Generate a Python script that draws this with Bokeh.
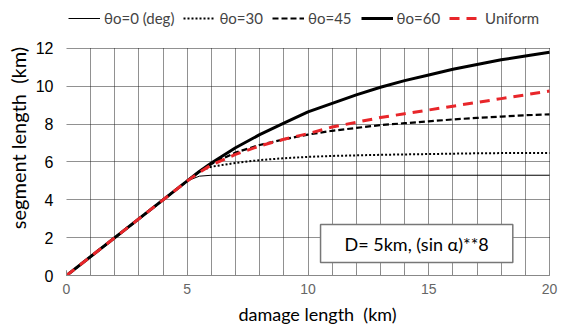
from bokeh.plotting import figure
from bokeh.models import Range1d, Legend, LegendItem, Label, SingleIntervalTicker, FixedTicker
from bokeh.embed import file_html
from bokeh.resources import INLINE

damage = [0, 5, 5.5, 6, 7, 8, 9, 10, 11, 12, 13, 14, 15, 16, 17, 18, 19, 20]
theta0 = [0, 5, 5.25, 5.3, 5.3, 5.3, 5.3, 5.3, 5.3, 5.3, 5.3, 5.3, 5.3, 5.3, 5.3, 5.3, 5.3, 5.3]
theta30 = [0, 5, 5.5, 5.75, 5.95, 6.1, 6.2, 6.27, 6.32, 6.35, 6.38, 6.4, 6.42, 6.44, 6.46, 6.47, 6.48, 6.48]
theta45 = [0, 5, 5.5, 5.9, 6.5, 6.9, 7.2, 7.45, 7.65, 7.8, 7.95, 8.05, 8.15, 8.25, 8.33, 8.4, 8.47, 8.52]
theta60 = [0, 5, 5.5, 5.95, 6.75, 7.45, 8.05, 8.65, 9.1, 9.55, 9.95, 10.3, 10.6, 10.9, 11.15, 11.4, 11.6, 11.8]
uniform = [0, 5, 5.45, 5.85, 6.4, 6.85, 7.2, 7.5, 7.85, 8.1, 8.35, 8.55, 8.75, 8.95, 9.15, 9.35, 9.55, 9.75]
x_ticks = [0, 5, 10, 15, 20]
y_ticks = [0, 2, 4, 6, 8, 10, 12]
legend_labels = ["\u03b8o=0 (deg)", "\u03b8o=30", "\u03b8o=45", "\u03b8o=60", "Uniform"]
note = "D= 5km, (sin \u03b1)**8"
x_title = "damage length\u00a0\u00a0(km)"
y_title = "segment length\u00a0\u00a0(km)"

X_MAX, Y_MAX = 20, 12
# frame extends to the canvas top/right so the legend can sit above the grid
p = figure(width=568, height=329, output_backend="svg", toolbar_location=None,
           x_range=Range1d(0, X_MAX + 19 / 24.15), y_range=Range1d(0, Y_MAX + 48 / 18.92),
           min_border_left=66, min_border_right=0, min_border_top=0, min_border_bottom=54)
p.outline_line_color = None
p.background_fill_color = "white"

# grids
p.xgrid.ticker = SingleIntervalTicker(interval=1)
p.ygrid.ticker = FixedTicker(ticks=y_ticks)
p.xgrid.bounds = (0, X_MAX)
p.xgrid.cross_bounds = (0, Y_MAX)
p.ygrid.bounds = (0, Y_MAX)
p.ygrid.cross_bounds = (0, X_MAX)
for g in (p.xgrid, p.ygrid):
    g.grid_line_color = "#222222"
    g.grid_line_dash = "1 1"
    g.grid_line_width = 1

# x axis
p.xaxis.ticker = FixedTicker(ticks=x_ticks, minor_ticks=list(range(0, 21)))
p.xaxis.bounds = (0, X_MAX)
p.xaxis.axis_line_color = "#888888"
p.xaxis.major_tick_in = 5
p.xaxis.major_tick_out = 0
p.xaxis.minor_tick_in = 5
p.xaxis.minor_tick_out = 0
p.xaxis.major_tick_line_color = "#888888"
p.xaxis.minor_tick_line_color = "#888888"
p.xaxis.major_label_text_font = "Liberation Sans"
p.xaxis.major_label_text_font_size = "14px"
p.xaxis.major_label_text_color = "#666666"
p.xaxis.major_label_standoff = 8
p.xaxis.axis_label = x_title
p.xaxis.axis_label_text_font = "Lato"
p.xaxis.axis_label_text_font_style = "normal"
p.xaxis.axis_label_text_font_size = "18px"
p.xaxis.axis_label_text_color = "black"
p.xaxis.axis_label_standoff = 6

# y axis
p.yaxis.ticker = FixedTicker(ticks=y_ticks)
p.yaxis.bounds = (0, Y_MAX)
p.yaxis.axis_line_color = None
p.yaxis.major_tick_line_color = None
p.yaxis.minor_tick_line_color = None
p.yaxis.major_tick_in = 0
p.yaxis.major_tick_out = 0
p.yaxis.minor_tick_in = 0
p.yaxis.minor_tick_out = 0
p.yaxis.major_label_text_font = "Liberation Sans"
p.yaxis.major_label_text_font_size = "16px"
p.yaxis.major_label_text_color = "black"
p.yaxis.major_label_standoff = 13
p.yaxis.axis_label = y_title
p.yaxis.axis_label_text_font = "Lato"
p.yaxis.axis_label_text_font_style = "normal"
p.yaxis.axis_label_text_font_size = "20px"
p.yaxis.axis_label_text_color = "black"
p.yaxis.axis_label_standoff = 3

r0 = p.line(damage, theta0, line_color="black", line_width=1)
r30 = p.line(damage, theta30, line_color="black", line_width=2, line_dash="2 2")
r45 = p.line(damage, theta45, line_color="black", line_width=2.2, line_dash="6 3")
r60 = p.line(damage, theta60, line_color="black", line_width=3)
ru = p.line(damage, uniform, line_color="#e8262a", line_width=3, line_dash="10 7")

legend = Legend(items=[LegendItem(label=l, renderers=[r]) for l, r in
                       zip(legend_labels, [r0, r30, r45, r60, ru])],
                orientation="horizontal", location=(2, 248),
                glyph_width=32, glyph_height=16, label_standoff=4, spacing=9,
                label_text_font="Lato", label_text_font_size="15px",
                background_fill_alpha=0, border_line_color=None,
                padding=0, margin=0)
p.add_layout(legend, "center")

lab = Label(x=14.5, y=1.69, text=note, text_align="center", text_baseline="middle",
            text_font="Lato", text_font_size="18px", text_color="black",
            background_fill_color="white", border_line_color="#777777", border_line_width=1.5,
            padding=(24, 24, 8, 8))
p.add_layout(lab)

open("out.html", "w").write(file_html(p, INLINE))
